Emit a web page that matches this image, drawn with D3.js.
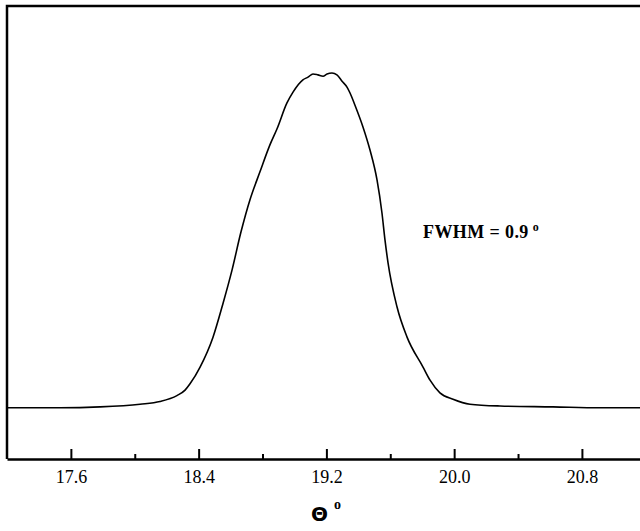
<!DOCTYPE html>
<html>
<head>
<meta charset="utf-8">
<script src="https://cdn.jsdelivr.net/npm/d3@7"></script>
<style>
  body { margin: 0; background: #fff; }
</style>
</head>
<body>
<svg id="chart"></svg>
<script>
const theta = [
  17.2, 17.532, 17.782, 18.033, 18.158, 18.264, 18.315, 18.346, 18.409, 18.49,
  18.553, 18.609, 18.665, 18.722, 18.784, 18.847, 18.891, 18.953, 18.991, 19.053,
  19.085, 19.116, 19.147, 19.179, 19.204, 19.235, 19.266, 19.298, 19.329, 19.348,
  19.379, 19.429, 19.473, 19.517, 19.548, 19.567, 19.586, 19.642, 19.705, 19.805,
  19.849, 19.911, 19.993, 20.099, 20.287, 20.619, 20.913, 21.17
];
const intensity = [
  11.3, 11.3, 11.5, 12.1, 12.7, 14.0, 15.2, 16.6, 20.3, 26.9,
  34.4, 41.7, 50.1, 57.3, 63.4, 69.4, 72.9, 78.6, 81.0, 83.7,
  84.3, 85.0, 84.8, 84.5, 85.0, 85.2, 84.8, 83.4, 82.1, 80.8,
  78.1, 73.3, 68.2, 61.6, 54.3, 48.3, 43.3, 33.6, 26.9, 20.3,
  17.4, 14.6, 13.2, 12.1, 11.7, 11.5, 11.3, 11.3
];
const majorTicks = [17.6, 18.4, 19.2, 20.0, 20.8];
const minorTicks = [18.0, 18.8, 19.6, 20.4];
const annotation = "FWHM = 0.9";

const width = 640;
const height = 531;
const margin = { top: 6, right: -1, bottom: 72, left: 7 };

const data = theta.map((t, i) => ({ t, v: intensity[i] }));

const x = d3.scaleLinear([17.2, 21.17], [margin.left, width - margin.right]);
const y = d3.scaleLinear([0, 100], [height - margin.bottom, margin.top]);

const svg = d3.select("svg#chart")
  .attr("width", width)
  .attr("height", height);

// frame (top and left; right edge falls outside the picture)
svg.append("path")
  .attr("d", `M${margin.left},${height - margin.bottom}V${margin.top}H${width + 5}`)
  .style("fill", "none")
  .style("stroke", "#000")
  .style("stroke-width", 2.5);

const xAxis = d3.axisBottom(x)
  .tickValues(majorTicks)
  .tickFormat(d3.format(".1f"))
  .tickSizeInner(-10)
  .tickSizeOuter(0)
  .tickPadding(11);

const gx = svg.append("g")
  .attr("transform", `translate(0, ${height - margin.bottom})`)
  .call(xAxis);

gx.select(".domain").style("stroke-width", 2.5);
gx.selectAll(".tick line").style("stroke-width", 2);
gx.selectAll(".tick text")
  .style("font-family", "'Liberation Serif', serif")
  .style("font-size", "18px")
  .style("fill", "#000");

svg.append("g")
  .attr("transform", `translate(0, ${height - margin.bottom})`)
  .call(d3.axisBottom(x).tickValues(minorTicks).tickSizeInner(-5).tickSizeOuter(0).tickFormat(""))
  .call(g => g.select(".domain").remove())
  .selectAll(".tick line").style("stroke-width", 2);

const line = d3.line()
  .x(d => x(d.t))
  .y(d => y(d.v))
  .curve(d3.curveMonotoneX);

svg.append("path")
  .datum(data)
  .attr("d", line)
  .style("fill", "none")
  .style("stroke", "#000")
  .style("stroke-width", 1.6);

const note = svg.append("text")
  .attr("x", 423)
  .attr("y", 238)
  .style("font-family", "'Liberation Serif', serif")
  .style("font-weight", "bold")
  .style("font-size", "18px")
  .style("letter-spacing", "0.4px")
  .text(annotation);
note.append("tspan")
  .attr("dx", 4)
  .attr("dy", -7)
  .style("font-size", "12px")
  .text("o");

const title = svg.append("text")
  .attr("x", 326)
  .attr("y", 521)
  .attr("text-anchor", "middle")
  .style("font-family", "'DejaVu Sans', sans-serif")
  .style("font-weight", "bold")
  .style("font-size", "20px")
  .text("Θ");
title.append("tspan")
  .attr("dx", 6)
  .attr("dy", -12)
  .style("font-family", "'Liberation Serif', serif")
  .style("font-size", "14px")
  .text("o");
</script>
</body>
</html>
